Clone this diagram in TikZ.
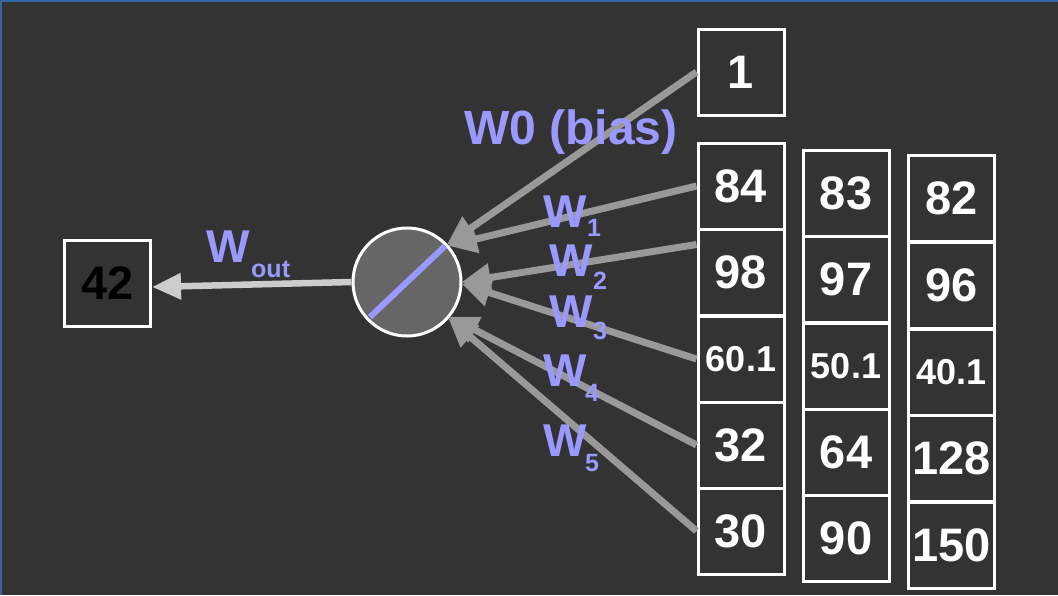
\documentclass[tikz,border=0pt]{standalone}
\usepackage{fontspec}
\setmainfont{Liberation Sans}
\usetikzlibrary{arrows.meta,calc}
\definecolor{bg}{HTML}{333333}
\definecolor{wlab}{HTML}{9999FF}
\definecolor{arr}{HTML}{999999}
\definecolor{outarr}{HTML}{CCCCCC}
\definecolor{frame}{HTML}{3465A4}
\definecolor{neur}{HTML}{666666}
\tikzset{
  valbox/.style={draw=white, line width=3pt, fill=bg, minimum width=86pt, minimum height=86pt, inner sep=0pt, text=white, font=\fontsize{47}{47}\selectfont\bfseries},
  smallval/.style={font=\fontsize{36}{36}\selectfont\bfseries},
  inarrow/.style={draw=arr, line width=7pt, -{Triangle[length=29pt,width=27pt]}, shorten >=-1pt},
  outarrow/.style={draw=outarr, line width=6.5pt, -{Triangle[length=29pt,width=25pt]}},
  wlabel/.style={text=wlab, font=\fontsize{46}{46}\selectfont\bfseries, inner sep=0pt, anchor=base west},
  subl/.style={text=wlab, font=\fontsize{25}{25}\selectfont\bfseries, inner sep=0pt, anchor=base west}
}
\begin{document}
\begin{tikzpicture}[x=1pt,y=-1pt]
\fill[bg] (0,0) rectangle (1058,595);
\useasboundingbox (0,0) rectangle (1058,595);
\draw[frame, line width=1.5pt] (0.75,595) -- (0.75,0.75) -- (1058,0.75);

% input column 1
\node[valbox] (b0) at (741,72) {1};
\node[valbox] (b1) at (741,186) {84};
\node[valbox] (b2) at (741,272.5) {98};
\node[valbox, smallval] (b3) at (741,359) {60.1};
\node[valbox] (b4) at (741,445) {32};
\node[valbox] (b5) at (741,531) {30};
% column 2
\node[valbox] (c1) at (846,193) {83};
\node[valbox] (c2) at (846,279.5) {97};
\node[valbox, smallval] (c3) at (846,366) {50.1};
\node[valbox] (c4) at (846,452.5) {64};
\node[valbox] (c5) at (846,538.5) {90};
% column 3
\node[valbox] (d1) at (951.5,198.5) {82};
\node[valbox] (d2) at (951.5,285.5) {96};
\node[valbox, smallval] (d3) at (951.5,372) {40.1};
\node[valbox] (d4) at (951.5,458.5) {128};
\node[valbox] (d5) at (951.5,545) {150};

% output box
\node[valbox, text=black] (out) at (107.5,283) {42};

% neuron
\node[circle, draw=white, line width=3pt, fill=neur, minimum size=108pt, inner sep=0pt] (n) at (407,282) {};
\draw[wlab, line width=6pt] ($(n.center)+(-37,35)$) -- ($(n.center)+(38,-36)$);

% arrows
\coordinate (b2s) at ($(b2.west)+(0,-28)$);
\coordinate (outend) at ($(out.east)+(0,4)$);
\draw[inarrow] (b0.west) -- (n.43);
\draw[inarrow] (b1.west) -- (n.41);
\draw[inarrow] (b2s) -- (n.east);
\draw[inarrow] (b3.west) -- (n.-2);
\draw[inarrow] (b4.west) -- (n.-39);
\draw[inarrow] (b5.west) -- (n.-41);
\draw[outarrow] (n.west) -- (outend);

% labels
\node[text=wlab, font=\fontsize{48}{48}\selectfont\bfseries, inner sep=0pt] (lb) at (571,132) {W0 (bias)};
\node[wlabel] (l1) at (543,227) {W};
\node[subl] (s1) at (587,236) {1};
\node[wlabel] (l2) at (549,276) {W};
\node[subl] (s2) at (593,289) {2};
\node[wlabel] (l3) at (549,327) {W};
\node[subl] (s3) at (593,339) {3};
\node[wlabel] (l4) at (543,386) {W};
\node[subl] (s4) at (585,401) {4};
\node[wlabel] (l5) at (543,456) {W};
\node[subl] (s5) at (585,471) {5};
\node[wlabel] (lo) at (206,262) {W};
\node[subl] (so) at (251,277) {out};
\end{tikzpicture}
\end{document}
